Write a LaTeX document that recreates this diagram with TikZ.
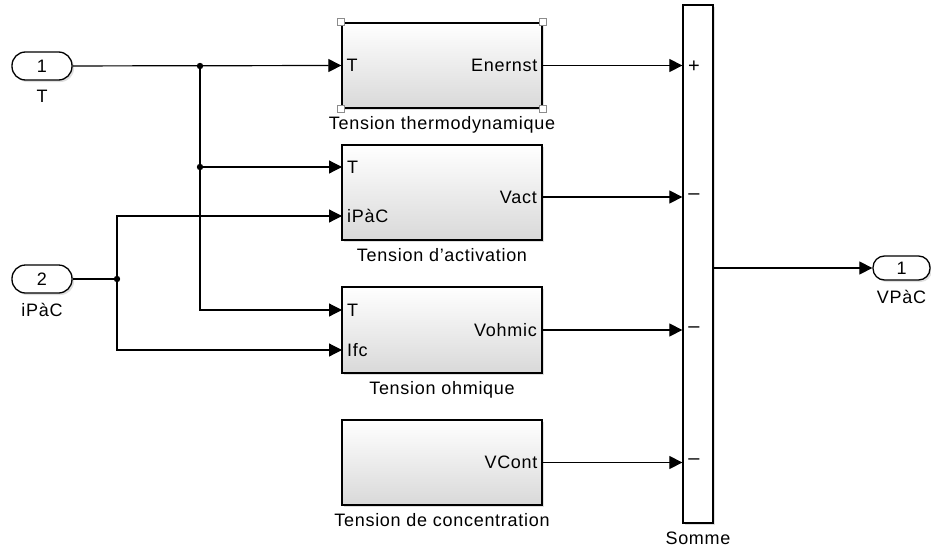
\documentclass[tikz,border=0pt]{standalone}
\usepackage{fontspec}
\setmainfont{Liberation Sans}[LetterSpace=4]
\usetikzlibrary{positioning,arrows.meta,shadows}

\begin{document}
\begin{tikzpicture}[x=1pt,y=-1pt,
			>={Triangle[length=13pt,width=13pt]},
			font=\fontsize{18}{21}\selectfont,
			signal/.style={line width=1.2pt},
			block/.style={
				draw,
				line width=1.3pt,
				minimum width=200pt,
				top color=white,
				bottom color=black!15,
				drop shadow={opacity=0.25,shadow xshift=2pt,shadow yshift=-2pt}
			},
			port/.style={
				draw,
				line width=1.3pt,
				fill=white,
				minimum width=60pt,
				minimum height=28pt,
				rounded corners=13.5pt,
				drop shadow={opacity=0.25,shadow xshift=2pt,shadow yshift=-2pt}
			},
			tag/.style={inner sep=0pt},
			sign/.style={inner sep=0pt,font=\fontsize{20}{22}\selectfont},
			handle/.style={draw=black!45,fill=white,line width=0.8pt,minimum size=7pt,inner sep=0pt}]
			
			\useasboundingbox (0,0) rectangle (931,554);
			
			% entrees
			\node[port] (in1) at (42,66){1};
			
			\node[tag] (in1-lab)[below=9pt of in1]{T};
			
			\node[port] (in2) at (42,279){2};
			
			\node[tag] (in2-lab)[below=9pt of in2]{iPàC};
			
			% blocs
			\node[block,minimum height=85pt] (thermo) at (442,65.5){};
			
			\node[tag] (thermo-lab)[below=8pt of thermo]{Tension thermodynamique};
			
			\node[block,minimum height=95pt] (act) at (442,192.5){};
			
			\node[tag] (act-lab)[below=8pt of act]{Tension d'activation};
			
			\node[block,minimum height=86pt] (ohm) at (442,330){};
			
			\node[tag] (ohm-lab)[below=8pt of ohm]{Tension ohmique};
			
			\node[block,minimum height=85pt] (conc) at (442,462.5){};
			
			\node[tag] (conc-lab)[below=8pt of conc]{Tension de concentration};
			
			\foreach \c/\n in {north west/nw,north east/ne,south west/sw,south east/se}
				\node[handle] (h-\n) at (thermo.\c){};
			
			% ports des blocs
			\coordinate (act-T) at (342,167);
			
			\coordinate (act-I) at (342,216);
			
			\coordinate (act-out) at (542,197);
			
			\coordinate (ohm-T) at (342,310);
			
			\coordinate (ohm-I) at (342,350);
			
			\coordinate (ohm-out) at (542,330);
			
			\node[tag,anchor=west] (thermo-Tlab) at ([xshift=5pt]thermo.west){T};
			
			\node[tag,anchor=east] (thermo-Olab) at ([xshift=-5pt]thermo.east){Enernst};
			
			\node[tag,anchor=west] (act-Tlab) at ([xshift=5pt]act-T){T};
			
			\node[tag,anchor=west] (act-Ilab) at ([xshift=5pt]act-I){iPàC};
			
			\node[tag,anchor=east] (act-Olab) at ([xshift=-5pt]act-out){Vact};
			
			\node[tag,anchor=west] (ohm-Tlab) at ([xshift=5pt]ohm-T){T};
			
			\node[tag,anchor=west] (ohm-Ilab) at ([xshift=5pt]ohm-I){Ifc};
			
			\node[tag,anchor=east] (ohm-Olab) at ([xshift=-5pt]ohm-out){Vohmic};
			
			\node[tag,anchor=east] (conc-Olab) at ([xshift=-5pt]conc.east){VCont};
			
			% somme
			\node[draw,line width=1.3pt,fill=white,minimum width=30pt,minimum height=518pt,
				drop shadow={opacity=0.25,shadow xshift=2pt,shadow yshift=-2pt}] (somme) at (698,264){};
			
			\node[tag] (somme-lab)[below=8pt of somme]{Somme};
			
			\node[sign] (s1) at (694,67){+};
			
			\node[sign] (s2) at (694,197){–};
			
			\node[sign] (s3) at (694,330){–};
			
			\node[sign] (s4) at (694,462){–};
			
			% sortie
			\node[port,minimum width=57pt,minimum height=24pt,rounded corners=11.5pt] (out) at (901.5,268){1};
			
			\node[tag] (out-lab)[below=9pt of out]{VPàC};
			
			% liaisons
			\coordinate (j1) at (200,66);
			
			\coordinate (j2) at (200,167);
			
			\coordinate (j3) at (117,279);
			
			\draw[signal,->](in1)--(thermo.west);
			
			\draw[signal,->](j1)|-(ohm-T);
			
			\draw[signal,->](j2)--(act-T);
			
			\draw[signal](in2)--(j3);
			
			\draw[signal,->](j3)|-(act-I);
			
			\draw[signal,->](j3)|-(ohm-I);
			
			\foreach \j in {j1,j2,j3}
				\fill (\j) circle (3.2pt);
			
			\draw[signal,->](thermo.east)--(thermo.east -| somme.west);
			
			\draw[signal,->](act-out)--(act-out -| somme.west);
			
			\draw[signal,->](ohm-out)--(ohm-out -| somme.west);
			
			\draw[signal,->](conc.east)--(conc.east -| somme.west);
			
			\draw[signal,->](somme.east |- out)--(out);
			
		\end{tikzpicture}
\end{document}
